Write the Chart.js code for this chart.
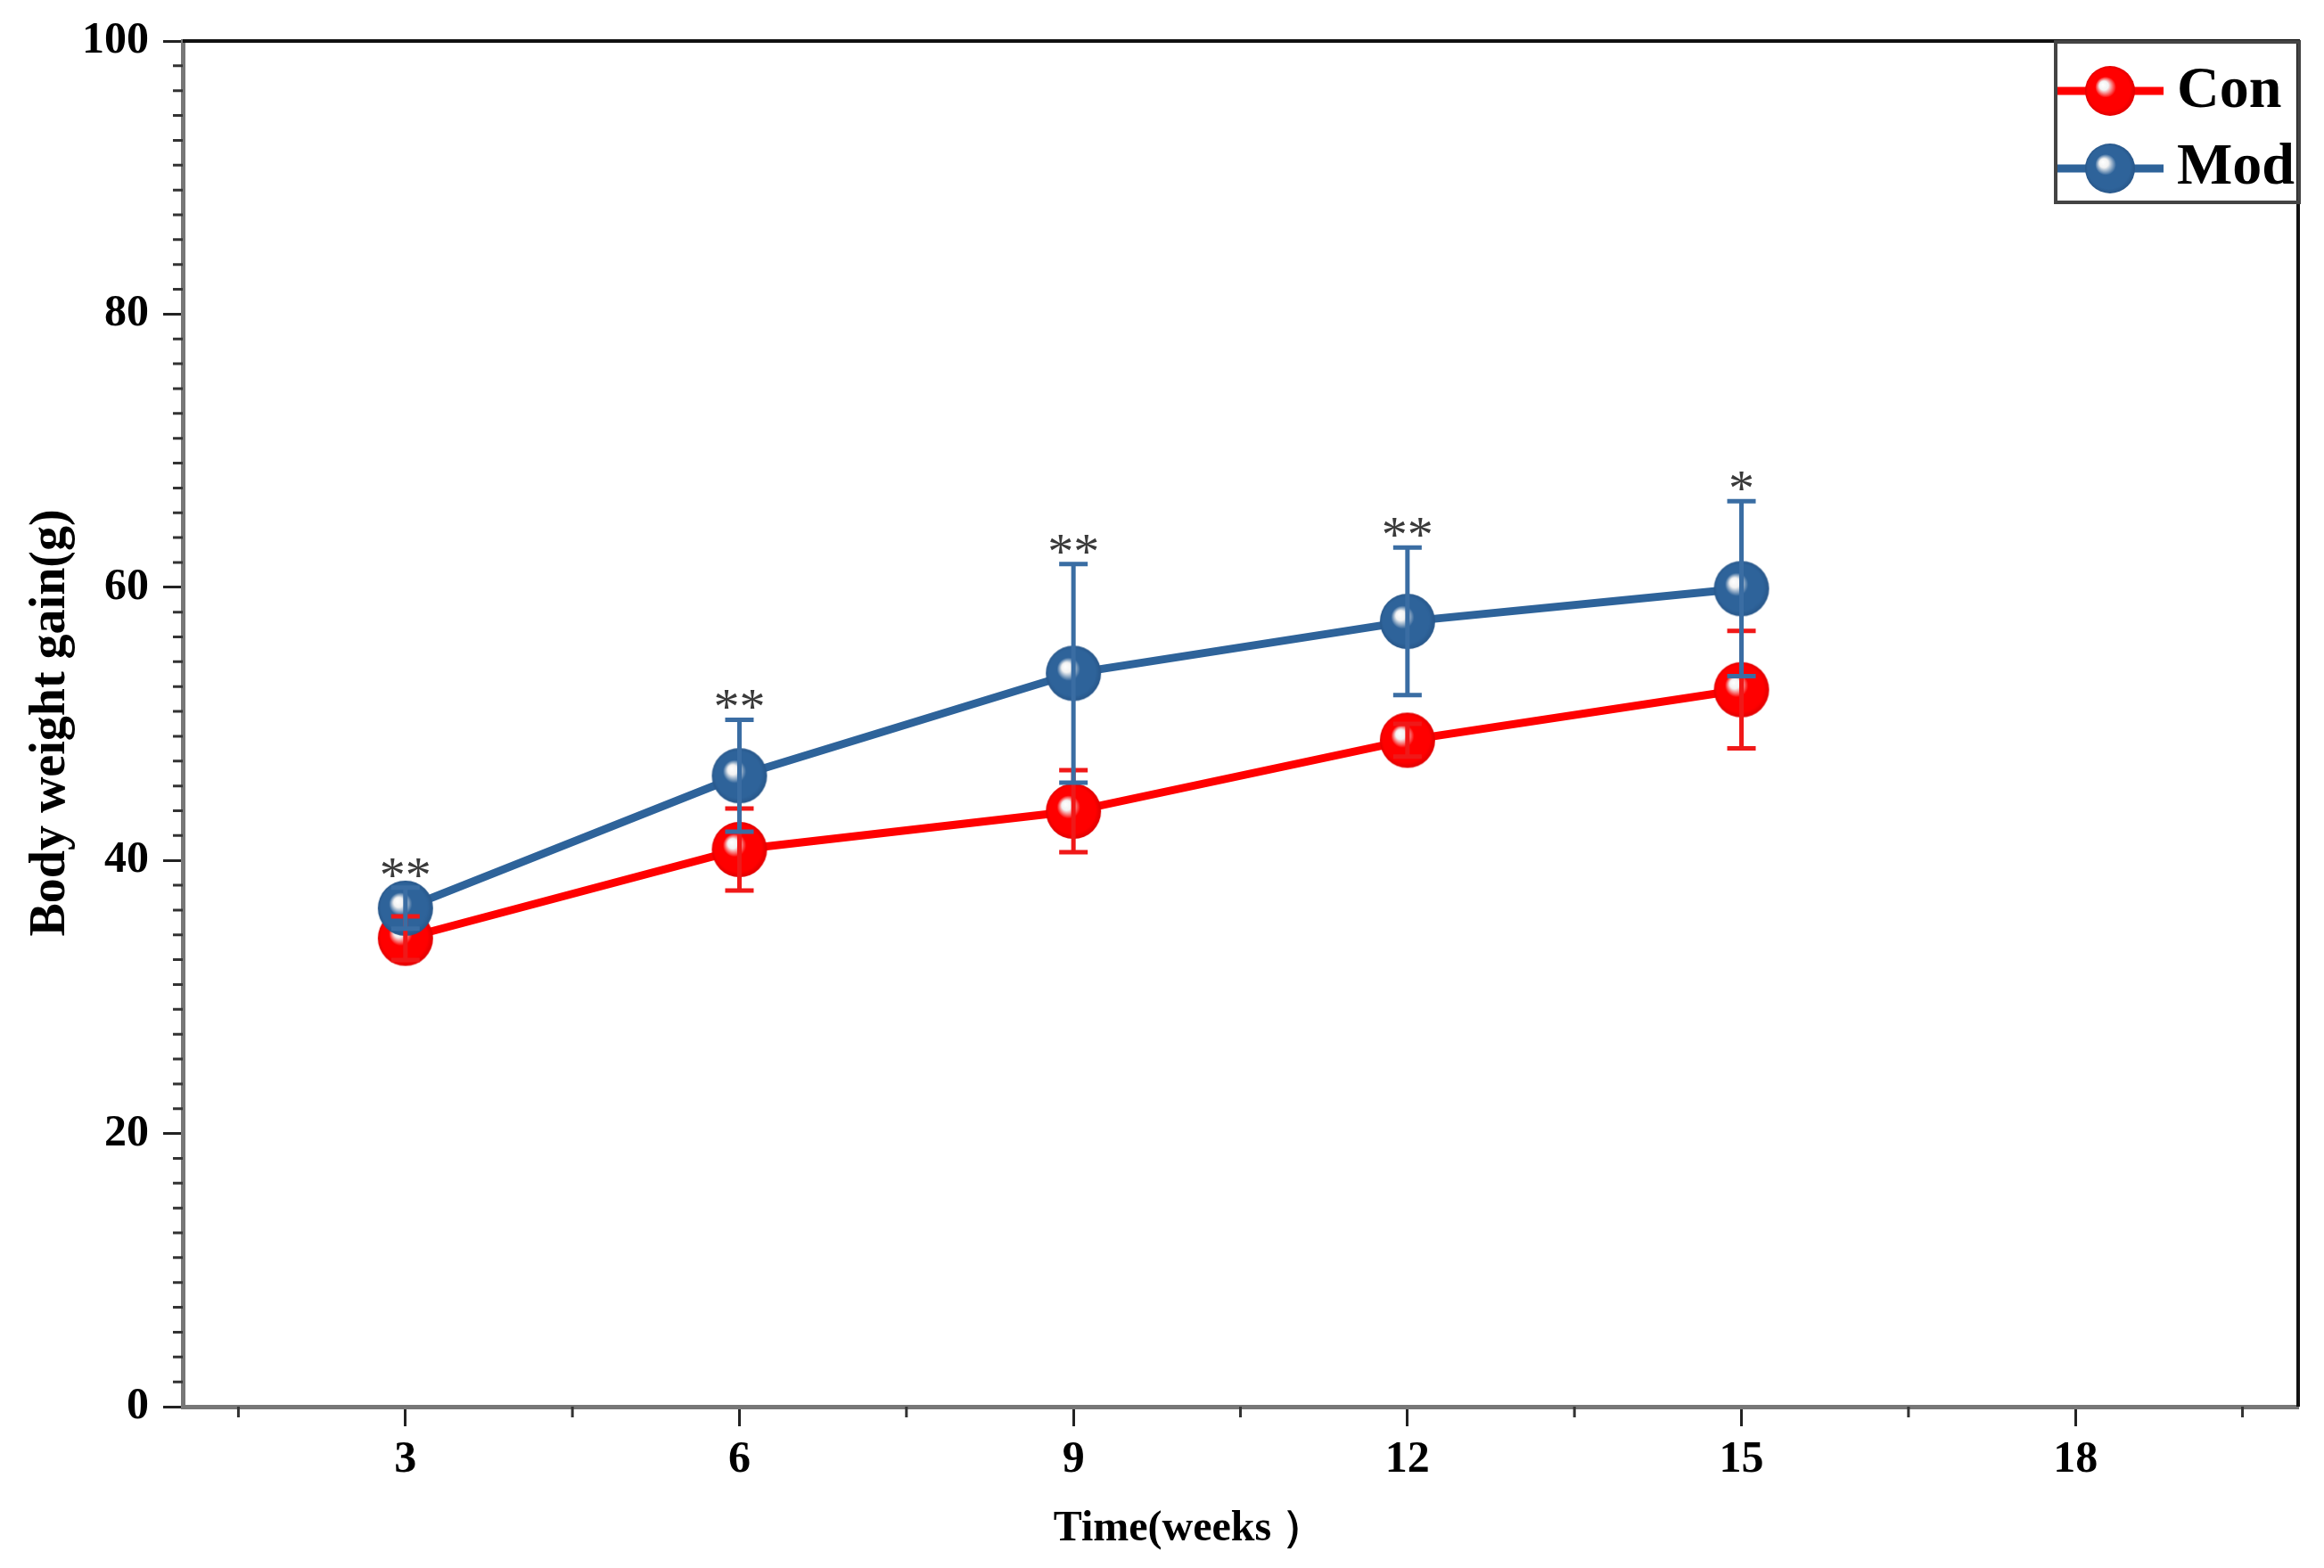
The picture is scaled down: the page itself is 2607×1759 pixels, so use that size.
<!DOCTYPE html>
<html>
<head>
<meta charset="utf-8">
<script src="https://cdn.jsdelivr.net/npm/chart.js@4/dist/chart.umd.min.js"></script>
<style>
  html, body { margin: 0; padding: 0; background: #fff; }
  #wrap { width: 2607px; height: 1759px; }
</style>
</head>
<body>
<div id="wrap"><canvas id="grafico" width="2607" height="1759"></canvas></div>
<script>
// datos
const semanas = [3, 6, 9, 12, 15];
const conMedia = [34.3, 40.8, 43.6, 48.8, 52.5];
const conError = [1.6, 3.0, 3.0, 1.2, 4.3];
const modMedia = [36.5, 46.2, 53.7, 57.5, 59.9];
const modError = [1.5, 4.1, 8.0, 5.4, 6.4];
const significancia = ['**', '**', '**', '**', '*'];
const xTicks = [3, 6, 9, 12, 15, 18];
const yTicks = [0, 20, 40, 60, 80, 100];

const ROJO = '#FF0000';
const AZUL = '#2E639A';
const SERIF = '"Liberation Serif", "Times New Roman", serif';

// marcador tipo esfera (como en Origin)
function esfera(color, borde, r) {
    const c = document.createElement('canvas');
    c.width = c.height = r * 2 + 2;
    const g = c.getContext('2d');
    const cx = r + 1, cy = r + 1;
    const grad = g.createRadialGradient(cx - r * 0.3, cy - r * 0.26, 0, cx, cy, r);
    grad.addColorStop(0, '#ffffff');
    grad.addColorStop(0.18, '#f2f2f2');
    grad.addColorStop(0.42, color);
    grad.addColorStop(0.85, color);
    grad.addColorStop(1, borde);
    g.fillStyle = grad;
    g.beginPath();
    g.arc(cx, cy, r, 0, Math.PI * 2);
    g.fill();
    return c;
}

const bolaRoja = esfera(ROJO, '#E00000', 31);
const bolaAzul = esfera(AZUL, '#28578A', 31);
const bolaRojaLeyenda = esfera(ROJO, '#E00000', 28);
const bolaAzulLeyenda = esfera(AZUL, '#28578A', 28);

const extras = {
    id: 'extras',
    afterDatasetsDraw(chart) {
        const ctx = chart.ctx;
        const x = chart.scales.x, y = chart.scales.y;

        // barras de error (encima de los marcadores)
        const series = [
            { media: conMedia, err: conError, color: '#F01818' },
            { media: modMedia, err: modError, color: '#3A6DA3' }
        ];
        ctx.save();
        ctx.lineWidth = 5;
        series.forEach(s => {
            ctx.strokeStyle = s.color;
            semanas.forEach((w, i) => {
                const px = x.getPixelForValue(w);
                const top = y.getPixelForValue(s.media[i] + s.err[i]);
                const bot = y.getPixelForValue(s.media[i] - s.err[i]);
                ctx.beginPath();
                ctx.moveTo(px, top); ctx.lineTo(px, bot);
                ctx.moveTo(px - 16, top); ctx.lineTo(px + 16, top);
                ctx.moveTo(px - 16, bot); ctx.lineTo(px + 16, bot);
                ctx.stroke();
            });
        });

        // asteriscos
        ctx.fillStyle = '#3a3a3a';
        ctx.font = '58px ' + SERIF;
        ctx.textAlign = 'center';
        ctx.textBaseline = 'alphabetic';
        semanas.forEach((w, i) => {
            const px = x.getPixelForValue(w);
            const top = y.getPixelForValue(modMedia[i] + modError[i]);
            ctx.fillText(significancia[i], px, top + 5);
        });
        ctx.restore();
    },
    afterDraw(chart) {
        const ctx = chart.ctx;
        const x = chart.scales.x, y = chart.scales.y;
        const a = chart.chartArea;
        ctx.save();

        // marco superior y derecho
        ctx.strokeStyle = '#111';
        ctx.lineWidth = 4;
        ctx.beginPath();
        ctx.moveTo(a.left, a.top); ctx.lineTo(a.right, a.top); ctx.lineTo(a.right, a.bottom);
        ctx.stroke();

        // ticks menores
        ctx.strokeStyle = '#333';
        ctx.lineWidth = 3;
        ctx.beginPath();
        for (let k = 0; k < yTicks.length - 1; k++) {
            for (let m = 1; m <= 10; m++) {
                const v = yTicks[k] + (yTicks[k + 1] - yTicks[k]) * m / 11;
                const py = y.getPixelForValue(v);
                ctx.moveTo(a.left - 11, py); ctx.lineTo(a.left, py);
            }
        }
        for (let v = 1.5; v < 20; v += 3) {
            const px = x.getPixelForValue(v);
            ctx.moveTo(px, a.bottom); ctx.lineTo(px, a.bottom + 12);
        }
        ctx.stroke();

        // leyenda
        ctx.strokeStyle = '#444';
        ctx.lineWidth = 4;
        ctx.strokeRect(2306, 47, 273, 180);
        const items = [
            { txt: 'Con', color: ROJO, bola: bolaRojaLeyenda, yy: 102, base: 120 },
            { txt: 'Mod', color: AZUL, bola: bolaAzulLeyenda, yy: 189, base: 206 }
        ];
        items.forEach(it => {
            ctx.strokeStyle = it.color;
            ctx.lineWidth = 9;
            ctx.beginPath();
            ctx.moveTo(2308, it.yy); ctx.lineTo(2427, it.yy);
            ctx.stroke();
            ctx.drawImage(it.bola, 2367 - it.bola.width / 2, it.yy - it.bola.height / 2);
            ctx.fillStyle = '#000';
            ctx.font = 'bold 66px ' + SERIF;
            ctx.textAlign = 'left';
            ctx.textBaseline = 'alphabetic';
            ctx.fillText(it.txt, 2442, it.base);
        });

        // titulos de ejes
        ctx.fillStyle = '#000';
        ctx.font = 'bold 48px ' + SERIF;
        ctx.textAlign = 'center';
        ctx.textBaseline = 'alphabetic';
        ctx.fillText('Time(weeks ）', 1334, 1728);

        ctx.translate(72, 811);
        ctx.rotate(-Math.PI / 2);
        ctx.font = 'bold 56px ' + SERIF;
        ctx.fillText('Body weight gain(g)', 0, 0);
        ctx.restore();
    }
};

const ctxGrafico = document.getElementById('grafico').getContext('2d');
window.miGrafico = new Chart(ctxGrafico, {
    type: 'line',
    data: {
        datasets: [
            {
                label: 'Con',
                data: semanas.map((w, i) => ({ x: w, y: conMedia[i] })),
                borderColor: ROJO,
                backgroundColor: ROJO,
                borderWidth: 9,
                pointStyle: bolaRoja,
                pointRadius: 31,
                tension: 0,
                order: 2
            },
            {
                label: 'Mod',
                data: semanas.map((w, i) => ({ x: w, y: modMedia[i] })),
                borderColor: AZUL,
                backgroundColor: AZUL,
                borderWidth: 9,
                pointStyle: bolaAzul,
                pointRadius: 31,
                tension: 0,
                order: 1
            }
        ]
    },
    options: {
        responsive: false,
        devicePixelRatio: 1,
        animation: false,
        layout: { autoPadding: false, padding: { top: 45, right: 29, left: 0, bottom: 0 } },
        plugins: {
            legend: { display: false },
            tooltip: { enabled: false }
        },
        scales: {
            x: {
                type: 'linear',
                min: 1,
                max: 20,
                afterBuildTicks: (s) => { s.ticks = xTicks.map(v => ({ value: v })); },
                afterFit: (s) => { s.height = 181; },
                grid: { drawOnChartArea: false, tickLength: 22, tickWidth: 3, tickColor: '#222' },
                border: { color: '#777', width: 5 },
                ticks: {
                    color: '#000',
                    padding: 8,
                    font: { family: SERIF, size: 50, weight: 'bold' }
                }
            },
            y: {
                min: 0,
                max: 100,
                afterBuildTicks: (s) => { s.ticks = yTicks.map(v => ({ value: v })); },
                afterFit: (s) => { s.width = 205; },
                grid: { drawOnChartArea: false, tickLength: 22, tickWidth: 3, tickColor: '#222' },
                border: { color: '#777', width: 5 },
                ticks: {
                    color: '#000',
                    padding: 16,
                    font: { family: SERIF, size: 50, weight: 'bold' }
                }
            }
        }
    },
    plugins: [extras]
});
</script>
</body>
</html>
